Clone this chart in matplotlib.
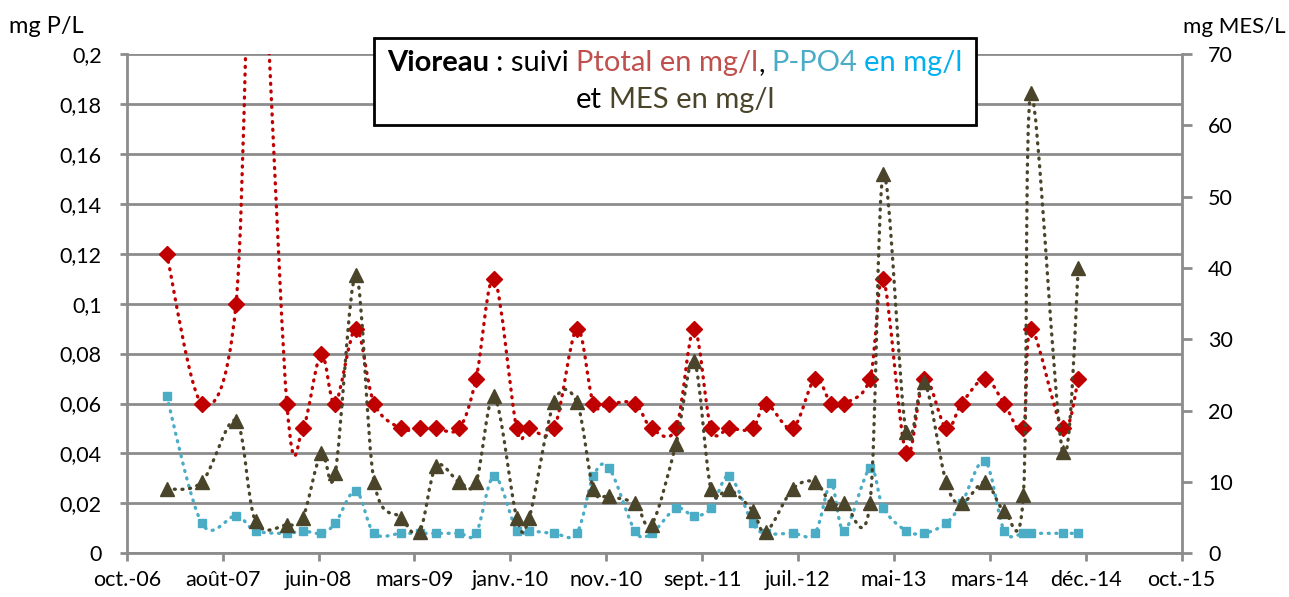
import matplotlib
matplotlib.use("Agg")
import matplotlib.pyplot as plt
import matplotlib.dates as mdates
import numpy as np
from matplotlib.path import Path
from matplotlib.patches import PathPatch, Rectangle
from matplotlib.offsetbox import TextArea, HPacker, VPacker, AnchoredOffsetbox, DrawingArea

plt.rcParams['font.family'] = ['Lato', 'DejaVu Sans']

# sampling dates shared by the three series
sample_dates = [
    '2007-02-12', '2007-06-02', '2007-09-17', '2007-11-17', '2008-02-23', '2008-04-13',
    '2008-06-09', '2008-07-23', '2008-09-26', '2008-11-22', '2009-02-14', '2009-04-13',
    '2009-06-04', '2009-08-15', '2009-10-07', '2009-12-03', '2010-02-11', '2010-03-22',
    '2010-06-08', '2010-08-18', '2010-10-09', '2010-11-28', '2011-02-16', '2011-04-09',
    '2011-06-24', '2011-08-20', '2011-10-12', '2011-12-08', '2012-02-19', '2012-04-01',
    '2012-06-23', '2012-09-01', '2012-10-21', '2012-12-02', '2013-02-20', '2013-04-03',
    '2013-06-13', '2013-08-09', '2013-10-16', '2013-12-04', '2014-02-15', '2014-04-16',
    '2014-06-15', '2014-07-09', '2014-10-16', '2014-12-04',
]

# phosphore total (mg P/L)
ptotal = [
    0.12, 0.06, 0.10, 0.28, 0.06, 0.05, 0.08, 0.06, 0.09, 0.06, 0.05, 0.05,
    0.05, 0.05, 0.07, 0.11, 0.05, 0.05, 0.05, 0.09, 0.06, 0.06, 0.06, 0.05,
    0.05, 0.09, 0.05, 0.05, 0.05, 0.06, 0.05, 0.07, 0.06, 0.06, 0.07, 0.11,
    0.04, 0.07, 0.05, 0.06, 0.07, 0.06, 0.05, 0.09, 0.05, 0.07,
]

# orthophosphates (mg P/L)
ppo4 = [
    0.063, 0.012, 0.015, 0.009, 0.008, 0.009, 0.008, 0.012, 0.025, 0.008, 0.008, 0.008,
    0.008, 0.008, 0.008, 0.031, 0.009, 0.009, 0.008, 0.008, 0.031, 0.034, 0.009, 0.008,
    0.018, 0.015, 0.018, 0.031, 0.012, 0.008, 0.008, 0.008, 0.028, 0.009, 0.034, 0.018,
    0.009, 0.008, 0.012, 0.020, 0.037, 0.009, 0.008, 0.008, 0.008, 0.008,
]

# matières en suspension (mg/L)
mes = [
    9, 10, 18.6, 4.5, 4, 5, 14, 11.2, 39, 10, 5, 3,
    12.2, 10, 10, 22, 5, 5, 21.2, 21.2, 9, 8, 7, 4,
    15.3, 27, 9, 9, 6, 3, 9, 10, 7, 7, 7, 53.2,
    17, 24, 10, 7, 10, 6, 8.2, 64.5, 14.2, 40,
]

tick_labels = ['oct.-06', 'août-07', 'juin-08', 'mars-09', 'janv.-10', 'nov.-10',
               'sept.-11', 'juil.-12', 'mai-13', 'mars-14', 'déc.-14', 'oct.-15']
axis_start = '2006-10-10'
tick_step_days = 300

GRAY = '#8C8C8C'
RED = '#C00000'
BLUE = '#4BACC6'
OLIVE = '#4A452A'


def smooth_path(x, y, tension=1 / 6):
    """Bezier path through the points, like a smoothed Excel line."""
    pts = np.column_stack([x, y])
    n = len(pts)
    verts = [pts[0]]
    codes = [Path.MOVETO]
    for i in range(n - 1):
        p0 = pts[i - 1] if i > 0 else pts[i]
        p1 = pts[i]
        p2 = pts[i + 1]
        p3 = pts[i + 2] if i + 2 < n else pts[i + 1]
        verts += [p1 + (p2 - p0) * tension, p2 - (p3 - p1) * tension, p2]
        codes += [Path.CURVE4] * 3
    return Path(verts, codes)


def draw_series(ax, x, y, color, marker, ms):
    patch = PathPatch(smooth_path(x, y), facecolor='none', edgecolor=color,
                      lw=2.4, linestyle=(0, (0.3, 2.0)), capstyle='round')
    ax.add_patch(patch)
    ax.plot(x, y, linestyle='none', marker=marker, ms=ms, color=color,
            markeredgecolor=color)


x = mdates.datestr2num(sample_dates)
x0 = mdates.datestr2num(axis_start)
xticks = x0 + tick_step_days * np.arange(len(tick_labels))

fig = plt.figure(figsize=(12.89, 5.97), dpi=100)
ax1 = fig.add_axes([0.0983, 0.0732, 0.8184, 0.8363])
ax2 = ax1.twinx()

ax1.set_xlim(xticks[0], xticks[-1])
ax1.set_ylim(0, 0.2)
ax2.set_ylim(0, 70)

draw_series(ax1, x, ppo4, BLUE, 's', 6.3)
draw_series(ax1, x, ptotal, RED, 'D', 8.6)
draw_series(ax2, x, mes, OLIVE, '^', 9.8)

# axes, ticks and grid
yt = np.arange(0, 0.2001, 0.02)
ax1.set_yticks(yt)
ax1.set_yticklabels([f'{v:g}'.replace('.', ',') for v in np.round(yt, 2)])
ax2.set_yticks(np.arange(0, 71, 10))
ax1.set_xticks(xticks)
ax1.set_xticklabels(tick_labels)

ax1.yaxis.grid(True, color=GRAY, lw=2)
ax1.set_axisbelow(True)
for ax in (ax1, ax2):
    ax.spines['top'].set_visible(False)
    for side in ('left', 'right', 'bottom'):
        ax.spines[side].set_color(GRAY)
        ax.spines[side].set_linewidth(2)
ax1.spines['right'].set_visible(False)
ax2.spines['left'].set_visible(False)
ax2.spines['bottom'].set_visible(False)

ax1.tick_params(axis='y', direction='out', length=5, width=2, color=GRAY,
                labelsize=15.5, pad=13)
ax1.tick_params(axis='x', direction='out', length=6, width=2, color=GRAY,
                labelsize=15.5, pad=6)
ax2.tick_params(axis='y', direction='out', length=7, width=2, color=GRAY,
                labelsize=15.5, pad=12)

fig.text(0.007, 0.955, 'mg P/L', fontsize=17, ha='left', va='center')
fig.text(0.997, 0.955, 'mg MES/L', fontsize=16, ha='right', va='center')

# title box with coloured words
box_l, box_t, box_r, box_b = 374, 38, 976, 125
W, H = 1289, 597
fig.patches.append(Rectangle((box_l / W, 1 - box_b / H), (box_r - box_l) / W,
                             (box_b - box_t) / H, transform=fig.transFigure,
                             facecolor='white', edgecolor='black', lw=2, zorder=4))


def piece(text, color='black', weight='normal'):
    return TextArea(text, textprops=dict(color=color, fontsize=21, fontweight=weight))


def gap(w=5):
    return DrawingArea(w, 1)


line1 = HPacker(children=[piece('Vioreau', weight='bold'), gap(), piece(': suivi'), gap(),
                          piece('Ptotal en mg/l', '#C0504D'), piece(','), gap(),
                          piece('P-PO4', '#4BACC6'), gap(), piece('en mg/l', '#00B0F0')],
                sep=0, align='baseline')
line2 = HPacker(children=[piece('et'), gap(), piece('MES en mg/l', OLIVE)],
                sep=0, align='baseline')
title = VPacker(children=[line1, line2], sep=8, align='center')
anch = AnchoredOffsetbox(loc='center', child=title, frameon=False, pad=0, borderpad=0,
                         bbox_to_anchor=((box_l + box_r) / 2 / W, 1 - (box_t + box_b) / 2 / H),
                         bbox_transform=fig.transFigure)
anch.set_zorder(5)
fig.add_artist(anch)

fig.savefig('out.png', dpi=100)
